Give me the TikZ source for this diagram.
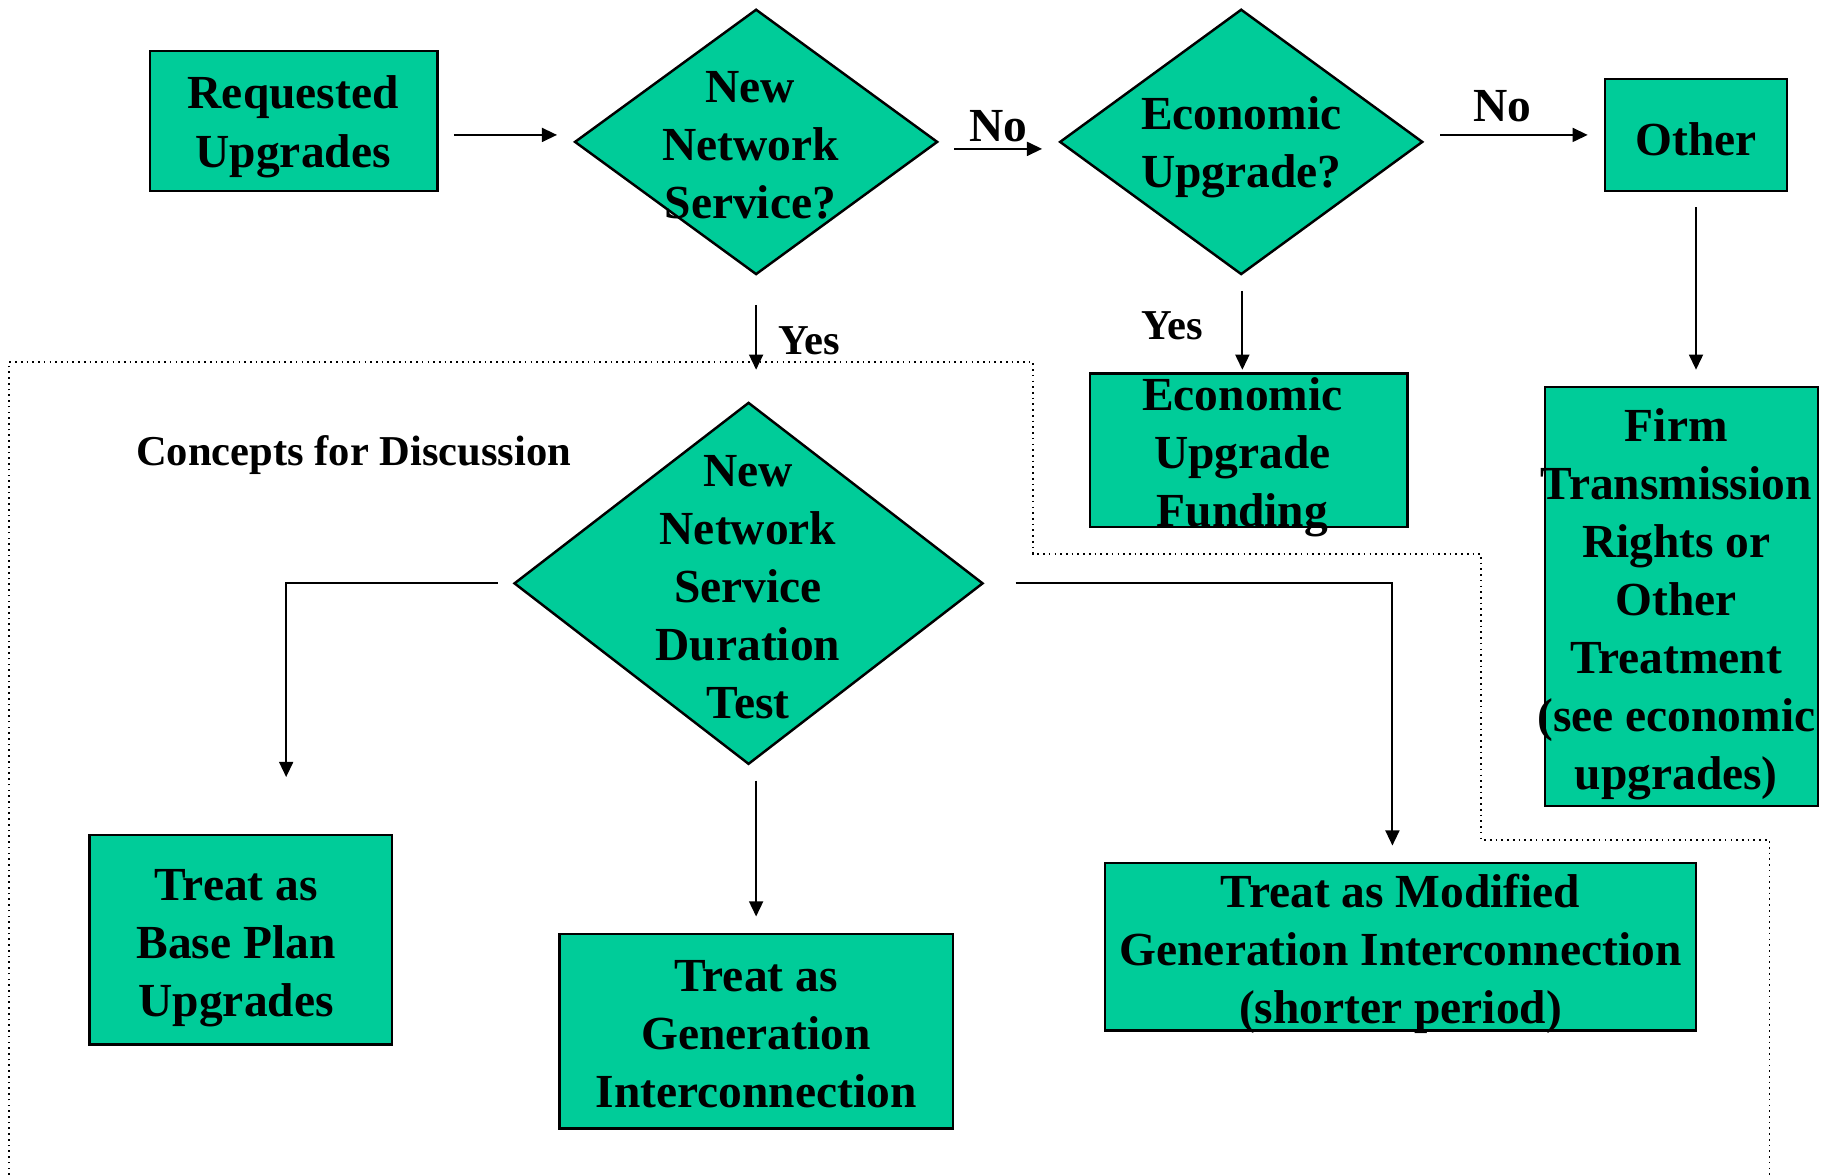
\documentclass[tikz,border=0pt]{standalone}
\usepackage{fontspec}
\setmainfont{Liberation Serif}
\usetikzlibrary{shapes.geometric,arrows.meta,calc}
\definecolor{boxgreen}{RGB}{0,204,153}
\begin{document}
\begin{tikzpicture}[x=0.01cm,y=-0.01cm,
  every node/.style={font=\fontsize{11.6}{14.2}\selectfont\bfseries},
  shapebox/.style={draw=black, line width=0.6pt, fill=boxgreen, inner sep=0pt},
  rbox/.style={shapebox, rectangle},
  dbox/.style={shapebox, diamond},
  txt/.style={align=center, inner sep=0pt},
  arr/.style={line width=0.5pt, -{Triangle[length=3.7pt,width=3.4pt]}},
  lbl/.style={inner sep=0pt},
  smalltxt/.style={font=\fontsize{10.4}{12.5}\selectfont\bfseries, inner sep=0pt}
]
\useasboundingbox (0,0) rectangle (1568,1010);

% dotted region
\draw[densely dotted, line width=0.4pt] (8,1010) -- (8,311) -- (888,311) -- (888,476)
  -- (1273,476) -- (1273,722) -- (1521,722) -- (1521,1010);

% shapes
\node[rbox, minimum width=2.47cm, minimum height=1.20cm] (req) at (252.5,104) {};
\node[dbox, minimum width=3.12cm, minimum height=2.28cm] (d1) at (650,122) {};
\node[dbox, minimum width=3.12cm, minimum height=2.28cm] (d2) at (1067,122) {};
\node[rbox, minimum width=1.56cm, minimum height=0.96cm] (other) at (1458,116) {};
\node[rbox, minimum width=2.35cm, minimum height=3.60cm] (firm) at (1445.5,513) {};
\node[rbox, minimum width=2.73cm, minimum height=1.32cm] (eco) at (1073.5,387) {};
\node[dbox, minimum width=4.03cm, minimum height=3.11cm] (d3) at (643.5,501.5) {};
\node[rbox, minimum width=2.60cm, minimum height=1.80cm] (base) at (207,808) {};
\node[rbox, minimum width=3.38cm, minimum height=1.67cm] (gen) at (650,886.5) {};
\node[rbox, minimum width=5.08cm, minimum height=1.44cm] (mod) at (1204,814) {};

% texts
\node[txt] (treq) at (252,109) {Requested\\Upgrades};
\node[txt] (td1) at (645,125) {New\\Network\\Service?};
\node[txt] (td2) at (1067,127) {Economic\\Upgrade?};
\node[txt] (tother) at (1458,120) {Other};
\node[txt] (tfirm) at (1441,519.5) {Firm\\Transmission\\Rights or\\Other\\Treatment\\(see economic\\upgrades)};
\node[txt] (teco) at (1068,393) {Economic\\Upgrade\\Funding};
\node[txt] (td3) at (643,505) {New\\Network\\Service\\Duration\\Test};
\node[txt] (tbase) at (203,815) {Treat as\\Base Plan\\Upgrades};
\node[txt] (tgen) at (650,889) {Treat as\\Generation\\Interconnection};
\node[txt] (tmod) at (1204,820) {Treat as Modified\\Generation Interconnection\\(shorter period)};
\node[smalltxt] (concepts) at (304,391) {Concepts for Discussion};

% connectors
\draw[arr] ($(req.east)+(13,12)$) -- ($(d1.west)+(-14,-6)$);
\draw[arr] ($(d1.east)+(13,6)$) -- node[lbl, above=1.5pt] {No} ($(d2.west)+(-14,6)$);
\draw[arr] ($(d2.east)+(14,-6)$) -- node[lbl, above=3pt, xshift=-0.1cm] {No} ($(other.west)+(-14,0)$);
\draw[arr] ($(other.south)+(0,13)$) -- ($(firm.north)+(12.5,-14)$);
\draw[arr] ($(d2.south)+(1,13)$) -- node[smalltxt, left=0.33cm, yshift=0.04cm] {Yes} ($(eco.north)+(-5.5,-2)$);
\draw[arr] ($(d1.south)+(0,25)$) -- node[smalltxt, right=0.18cm, yshift=-0.03cm] {Yes} ($(d3.north)+(6.5,-27)$);
\coordinate (e1) at (246,668);
\draw[arr] ($(d3.west)+(-13,0)$) -| (e1);
\draw[arr] ($(d3.south)+(6.5,13)$) -- ($(gen.north)+(0,-14)$);
\draw[arr] ($(d3.east)+(27,0)$) -| ($(mod.north)+(-7,-14)$);
\end{tikzpicture}
\end{document}
